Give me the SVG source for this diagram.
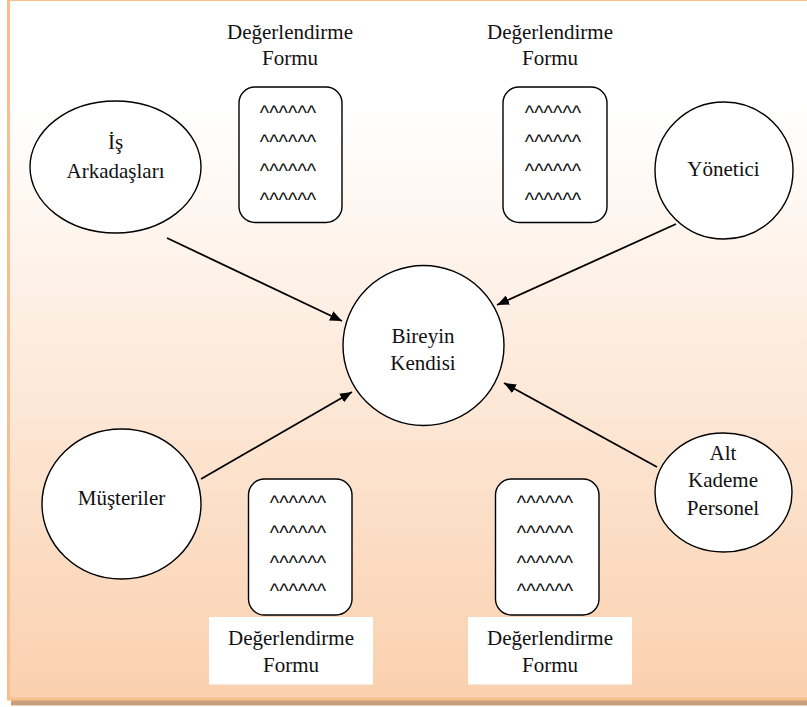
<svg xmlns="http://www.w3.org/2000/svg" width="807" height="707" viewBox="0 0 807 707">
<defs>
<linearGradient id="bg" x1="0" y1="0" x2="0" y2="1">
<stop offset="0" stop-color="#FFFFFF"/>
<stop offset="0.15" stop-color="#FFFFFF"/>
<stop offset="1" stop-color="#FAD0AE"/>
</linearGradient>
<marker id="arr" markerWidth="12" markerHeight="10" refX="12" refY="5" orient="auto" markerUnits="userSpaceOnUse">
<path d="M0,0 L12,5 L0,10 Z" fill="#000"/>
</marker>
<style>
.node{fill:#fff;stroke:#000;stroke-width:1.4}
.conn{stroke:#000;stroke-width:1.8;fill:none;marker-end:url(#arr)}
.wbox{fill:#fff}
</style>
</defs>
<rect x="11" y="3" width="800" height="702.5" fill="#C9A07F"/>
<rect x="8.5" y="-0.5" width="802" height="699.5" fill="url(#bg)" stroke="#F8BE8C" stroke-width="3"/>

<g id="connectors">
<line class="conn" x1="167" y1="238" x2="342" y2="321"/>
<line class="conn" x1="676" y1="224" x2="497" y2="305"/>
<line class="conn" x1="201" y1="479" x2="352" y2="392"/>
<line class="conn" x1="657" y1="467" x2="504" y2="383"/>
</g>

<g font-family="Liberation Serif, Times New Roman, serif" font-size="21" fill="#111" text-anchor="middle">
<g id="is-arkadaslari">
<ellipse class="node" cx="115.5" cy="167" rx="85.5" ry="66"/>
<text x="115.5" y="149">İş</text>
<text x="115.5" y="178">Arkadaşları</text>
</g>
<g id="yonetici">
<ellipse class="node" cx="724" cy="170.5" rx="69" ry="68.5"/>
<text x="723.5" y="175.5">Yönetici</text>
</g>
<g id="bireyin-kendisi">
<ellipse class="node" cx="423.5" cy="345.5" rx="80.5" ry="80"/>
<text x="423" y="343">Bireyin</text>
<text x="423" y="370">Kendisi</text>
</g>
<g id="musteriler">
<ellipse class="node" cx="121.5" cy="504" rx="79.5" ry="75"/>
<text x="121.5" y="505">Müşteriler</text>
</g>
<g id="alt-kademe">
<ellipse class="node" cx="723.5" cy="492.5" rx="68.5" ry="59.5"/>
<text x="723" y="460">Alt</text>
<text x="723" y="487">Kademe</text>
<text x="723" y="515">Personel</text>
</g>

<g id="form-top-left">
<rect class="wbox" x="210" y="11" width="160" height="67"/>
<text x="290" y="39">Değerlendirme</text>
<text x="290" y="65">Formu</text>
<rect class="node" x="239" y="87" width="103" height="135.5" rx="16"/>
<g font-family="Liberation Sans, Arial, sans-serif" font-size="20">
<text x="288" y="120">^^^^^^</text>
<text x="288" y="148.7">^^^^^^</text>
<text x="288" y="177.7">^^^^^^</text>
<text x="288" y="206.7">^^^^^^</text>
</g>
</g>
<g id="form-top-right">
<rect class="wbox" x="468" y="11" width="164" height="67"/>
<text x="550" y="39">Değerlendirme</text>
<text x="550" y="65">Formu</text>
<rect class="node" x="503" y="87" width="104" height="135.5" rx="16"/>
<g font-family="Liberation Sans, Arial, sans-serif" font-size="20">
<text x="553" y="120">^^^^^^</text>
<text x="553" y="148.7">^^^^^^</text>
<text x="553" y="177.7">^^^^^^</text>
<text x="553" y="206.7">^^^^^^</text>
</g>
</g>
<g id="form-bottom-left">
<rect class="node" x="248.5" y="479" width="103.5" height="136" rx="16"/>
<g font-family="Liberation Sans, Arial, sans-serif" font-size="20">
<text x="298" y="510">^^^^^^</text>
<text x="298" y="540">^^^^^^</text>
<text x="298" y="570">^^^^^^</text>
<text x="298" y="598.3">^^^^^^</text>
</g>
<rect class="wbox" x="209" y="617" width="164" height="67.5"/>
<text x="291" y="645">Değerlendirme</text>
<text x="291" y="672">Formu</text>
</g>
<g id="form-bottom-right">
<rect class="node" x="495.5" y="479" width="103.5" height="136" rx="16"/>
<g font-family="Liberation Sans, Arial, sans-serif" font-size="20">
<text x="545" y="510">^^^^^^</text>
<text x="545" y="540">^^^^^^</text>
<text x="545" y="570">^^^^^^</text>
<text x="545" y="598.3">^^^^^^</text>
</g>
<rect class="wbox" x="468" y="617" width="164" height="67.5"/>
<text x="550" y="645">Değerlendirme</text>
<text x="550" y="672">Formu</text>
</g>
</g>
</svg>
